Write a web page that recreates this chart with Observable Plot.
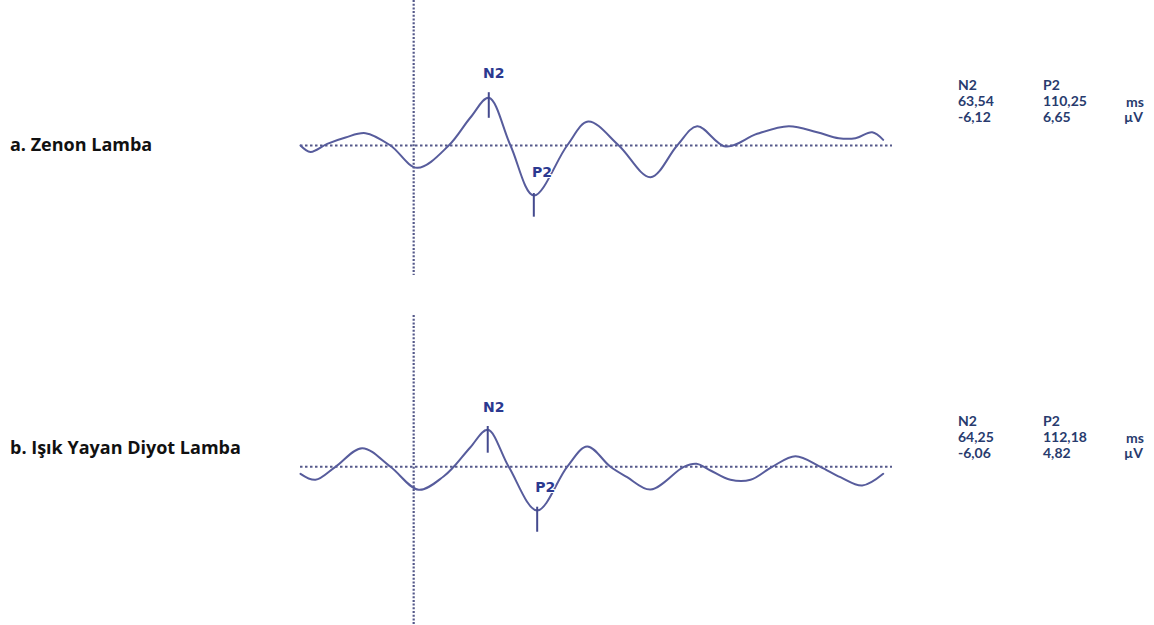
<!DOCTYPE html>
<html>
<head>
<meta charset="utf-8">
<script src="https://cdn.jsdelivr.net/npm/d3@7"></script>
<script src="https://cdn.jsdelivr.net/npm/@observablehq/plot@0.6"></script>
<style>
  html, body { margin: 0; padding: 0; background: #fff; }
  #wrap { width: 1154px; height: 625px; position: relative; overflow: hidden; }
  #wrap svg { display: block; }
</style>
</head>
<body>
<div id="wrap"></div>
<script>
// ---- Data (time in ms, amplitude in µV, positive plotted downward) ----
const panelLabels = ["a. Zenon Lamba", "b. Işık Yayan Diyot Lamba"];

const timeA = [-97.5, -88.9, -74.5, -58.7, -41.5, -20.0, 3.0, 30.2, 48.9, 64.7, 83.4, 103.5, 132.2, 150.3, 176.7, 204.0, 227.0, 244.2, 268.6, 295.9, 323.1, 347.6, 366.2, 380.6, 395.0, 404.5];
const ampA  = [0, 0.81, -0.2, -1.0, -1.54, 0, 2.79, 0, -3.5, -5.96, 0, 6.25, 0, -3.0, 0, 3.96, 0, -2.41, 0.12, -1.46, -2.41, -1.66, -0.91, -0.91, -1.66, -0.71];

const timeB = [-97.5, -84.6, -67.4, -44.4, -20.0, 4.4, 25.7, 34.5, 48.9, 63.8, 81.9, 106.4, 132.2, 149.5, 169.5, 183.9, 204.0, 232.7, 243.6, 255.7, 272.9, 290.2, 308.8, 328.9, 350.4, 367.6, 386.4, 404.5];
const ampB  = [0.875, 1.625, 0, -2.325, 0, 2.875, 1.21, 0, -2.45, -4.625, 0, 5.46, 0, -2.54, 0, 1.3, 2.84, 0, -0.375, 0.46, 1.625, 1.625, 0, -1.325, 0, 1.3, 2.34, 0.875];

// peak markers: name, time, tick start/end amplitude, label time/amplitude
const peakNames = ["N2", "P2"];
const markA = [
  {t: 64.7, a1: -6.6, a2: -3.4, lt: 69.0, la: -9.0},
  {t: 103.5, a1: 6.0, a2: 8.96, lt: 110.6, la: 3.4}
];
const markB = [
  {t: 63.8, a1: -5.04, a2: -1.7, lt: 69.0, la: -7.4},
  {t: 106.4, a1: 5.05, a2: 8.18, lt: 113.3, la: 2.6}
];

// result tables
const latencyA = ["63,54", "110,25"];
const amplitudeA = ["-6,12", "6,65"];
const latencyB = ["64,25", "112,18"];
const amplitudeB = ["-6,06", "4,82"];
const units = ["ms", "µV"];

const lineColor = "#575c9c";
const dotColor = "#55598a";

function panel({times, amps, marks, height, yTop, yBottom, vTop, vBottom}) {
  const wave = times.map((t, i) => ({t, a: amps[i]}));
  const m = marks.map((d, i) => ({...d, name: peakNames[i]}));
  return Plot.plot({
    width: 1154,
    height,
    marginLeft: 300,
    marginRight: 262,
    marginTop: 0,
    marginBottom: 0,
    x: {domain: [-97.5, 412.5], axis: null},
    y: {domain: [yBottom, yTop], axis: null},
    style: {background: "#fff", overflow: "visible"},
    marks: [
      Plot.ruleY([0], {stroke: dotColor, strokeWidth: 2, strokeDasharray: "2.5,2.5"}),
      Plot.ruleX([0], {y1: vTop, y2: vBottom, stroke: dotColor, strokeWidth: 2.2, strokeDasharray: "2,1.7"}),
      Plot.line(wave, {x: "t", y: "a", curve: "catmull-rom", stroke: lineColor, strokeWidth: 2, strokeLinejoin: "round"}),
      Plot.ruleX(m, {x: "t", y1: "a1", y2: "a2", stroke: "#444a8e", strokeWidth: 2}),
      Plot.text(m, {x: "lt", y: "la", text: "name", fill: "#2b3990", fontSize: 14, fontWeight: "bold",
        fontFamily: "DejaVu Sans", stroke: "#fff", strokeWidth: 2})
    ]
  });
}

const wrap = document.getElementById("wrap");
const svgA = panel({times: timeA, amps: ampA, marks: markA, height: 310,
  yTop: -145 / 8, yBottom: 165 / 8, vTop: -145 / 8, vBottom: 130 / 8});
const svgB = panel({times: timeB, amps: ampB, marks: markB, height: 315,
  yTop: -156.3 / 8, yBottom: 158.7 / 8, vTop: -151.3 / 8, vBottom: 158.7 / 8});
wrap.appendChild(svgA);
wrap.appendChild(svgB);

// labels and result tables (pixel layout)
function annotate(svg, label, labelBaseline, tblBaseline, lat, amp) {
  const s = d3.select(svg);
  s.append("text").attr("x", 10).attr("y", labelBaseline).attr("text-anchor", "start")
    .attr("font-family", "Open Sans").attr("font-weight", "bold").attr("font-size", 18)
    .attr("fill", "#111").text(label);
  const g = s.append("g").attr("font-family", "Lato").attr("font-weight", "bold")
    .attr("text-anchor", "start").attr("font-size", 14).attr("fill", "#283b6e");
  const cols = [958, 1043];
  peakNames.forEach((n, i) => {
    g.append("text").attr("x", cols[i]).attr("y", tblBaseline).text(n);
    g.append("text").attr("x", cols[i]).attr("y", tblBaseline + 16).text(lat[i]);
    g.append("text").attr("x", cols[i]).attr("y", tblBaseline + 32).text(amp[i]);
  });
  g.append("text").attr("x", 1126).attr("y", tblBaseline + 17).text(units[0]);
  g.append("text").attr("x", 1124).attr("y", tblBaseline + 32).text(units[1]);
}
annotate(svgA, panelLabels[0], 151, 90, latencyA, amplitudeA);
annotate(svgB, panelLabels[1], 454 - 310, 426 - 310, latencyB, amplitudeB);
</script>
</body>
</html>
